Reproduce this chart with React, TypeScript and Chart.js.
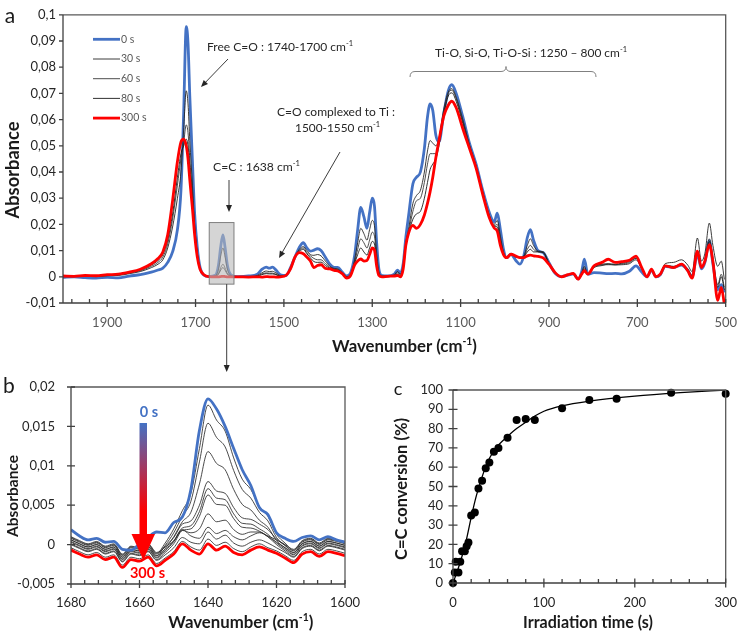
import React, { useEffect, useRef } from "react";
import { Chart, registerables } from "chart.js";
Chart.register(...registerables);

const W = 749;
const H = 637;
const FONT = "Lato, 'Open Sans', 'DejaVu Sans', sans-serif";

// ---------------- Panel a : full FTIR spectra ----------------
const wavenumberA = [
  2000, 1975, 1950, 1925, 1900, 1875, 1850, 1825, 1800, 1785,
  1774, 1763, 1752, 1741, 1733, 1727, 1721, 1717, 1713, 1707,
  1702, 1696, 1690, 1681, 1670, 1655, 1648, 1643, 1638, 1633,
  1628, 1620, 1605, 1580, 1560, 1550, 1540, 1533, 1526, 1518,
  1508, 1495, 1485, 1475, 1465, 1456, 1448, 1440, 1432, 1424,
  1416, 1406, 1396, 1386, 1378, 1368, 1358, 1349, 1340, 1333,
  1326, 1319, 1312, 1306, 1300, 1295, 1290, 1285, 1278, 1265,
  1250, 1243, 1236, 1230, 1224, 1218, 1208, 1200, 1191, 1182,
  1175, 1169, 1163, 1156, 1149, 1138, 1128, 1120, 1110, 1095,
  1080, 1065, 1050, 1035, 1024, 1017, 1010, 1003, 996, 986,
  975, 966, 957, 949, 942, 935, 925, 913, 900, 886,
  872, 857, 845, 834, 826, 820, 812, 798, 780, 766,
  750, 735, 718, 703, 690, 678, 668, 658, 648, 637,
  618, 600, 586, 576, 564, 555, 547, 537, 529, 518,
  510, 503,
];
const abs0s = [
  -0.0002, 0, -0.0003, -0.0005, -0.0002, -0.0004, 0.0003, 0.0008, 0.0018, 0.0026,
  0.0033, 0.0055, 0.0095, 0.018, 0.033, 0.062, 0.0955, 0.089, 0.069, 0.044,
  0.024, 0.011, 0.0038, 0.0006, 0.0001, 0.0006, 0.0045, 0.0115, 0.016, 0.011,
  0.0045, 0.0008, 0.0001, 0.0003, 0.001, 0.0028, 0.0037, 0.0033, 0.0037, 0.0026,
  0.0008, 0.0005, 0.0035, 0.0075, 0.0113, 0.013, 0.011, 0.0098, 0.0102, 0.0107,
  0.01, 0.0075, 0.0048, 0.0036, 0.0036, 0.0018, 0.0003, 0.0015, 0.008, 0.018,
  0.0265, 0.023, 0.0185, 0.0245, 0.03, 0.027, 0.013, 0.003, 0.0005, 0.0003,
  0.001, 0.0025, 0.0015, 0.005, 0.015, 0.023, 0.0355, 0.038, 0.04, 0.049,
  0.061, 0.066, 0.0635, 0.054, 0.0515, 0.0625, 0.071, 0.0733, 0.07, 0.061,
  0.051, 0.043, 0.033, 0.0245, 0.021, 0.0243, 0.018, 0.0105, 0.0073, 0.0086,
  0.0062, 0.0048, 0.008, 0.015, 0.018, 0.014, 0.01, 0.0092, 0.0054, 0.0013,
  0.0001, 0.0006, 0.0011, -0.0008, 0.002, 0.0067, 0.001, 0.0016, 0.0014, 0.0012,
  0.0013, 0.0011, 0.0021, 0.0042, 0.0018, 0, 0.0025, 0, 0.0008, 0.004,
  0.0035, 0.0045, 0.0025, 0, 0.0086, 0.003, 0.0055, 0.0138, 0.005, -0.005,
  -0.003, -0.006,
];
const abs30s = [
  0, 0.0001, 0.0002, 0.0001, 0.0004, 0.0005, 0.0012, 0.002, 0.0035, 0.0048,
  0.0065, 0.011, 0.019, 0.03, 0.04, 0.056, 0.071, 0.066, 0.052, 0.035,
  0.02, 0.009, 0.0033, 0.0006, 0.0001, 0.0004, 0.003, 0.008, 0.011, 0.0075,
  0.003, 0.0005, 0, 0.0001, 0.0005, 0.0015, 0.0022, 0.002, 0.0021, 0.0015,
  0.0005, 0.0005, 0.0033, 0.0075, 0.0105, 0.0115, 0.01, 0.0085, 0.0082, 0.0085,
  0.008, 0.006, 0.004, 0.0032, 0.003, 0.0016, 0.0001, 0.001, 0.0065, 0.013,
  0.0185, 0.0165, 0.014, 0.018, 0.0215, 0.0195, 0.009, 0.002, 0.0003, 0.0002,
  0.0008, 0.002, 0.001, 0.0045, 0.013, 0.018, 0.028, 0.031, 0.033, 0.04,
  0.048, 0.052, 0.051, 0.05, 0.053, 0.064, 0.0705, 0.0718, 0.0685, 0.06,
  0.0505, 0.0425, 0.0325, 0.0235, 0.02, 0.0215, 0.0155, 0.0095, 0.0073, 0.0086,
  0.0075, 0.0075, 0.008, 0.012, 0.0145, 0.012, 0.0098, 0.0095, 0.0052, 0.0015,
  0, 0.0007, 0.0012, -0.0008, 0.0015, 0.004, 0.0008, 0.0035, 0.0043, 0.0048,
  0.0045, 0.0046, 0.005, 0.0065, 0.003, 0.0002, 0.0028, 0.0002, 0.0012, 0.005,
  0.0055, 0.0065, 0.0045, 0.002, 0.0148, 0.006, 0.009, 0.0205, 0.012, 0.004,
  0.006, -0.001,
];
const abs60s = [
  0.0001, 0.0001, 0.0003, 0.0002, 0.0005, 0.0007, 0.0014, 0.0023, 0.004, 0.0055,
  0.0075, 0.0125, 0.022, 0.035, 0.045, 0.051, 0.058, 0.055, 0.045, 0.032,
  0.019, 0.009, 0.0032, 0.0007, 0.0001, 0.0002, 0.0013, 0.0035, 0.0048, 0.0033,
  0.0013, 0.0002, 0, 0, 0.0003, 0.0011, 0.0015, 0.0014, 0.0014, 0.001,
  0.0003, 0.0005, 0.0032, 0.0075, 0.01, 0.011, 0.0093, 0.008, 0.007, 0.0065,
  0.0065, 0.005, 0.0036, 0.003, 0.0028, 0.0015, 0, 0.0008, 0.0055, 0.0105,
  0.0145, 0.013, 0.011, 0.014, 0.017, 0.0155, 0.007, 0.0015, 0.0002, 0.0002,
  0.0006, 0.0015, 0.0007, 0.004, 0.0125, 0.017, 0.025, 0.029, 0.03, 0.036,
  0.043, 0.047, 0.047, 0.047, 0.052, 0.063, 0.07, 0.0712, 0.068, 0.0595,
  0.05, 0.042, 0.032, 0.023, 0.0195, 0.02, 0.0145, 0.009, 0.0073, 0.0086,
  0.0076, 0.0074, 0.0078, 0.0105, 0.012, 0.0105, 0.0096, 0.0094, 0.005, 0.0015,
  0, 0.0007, 0.0012, -0.0008, 0.0013, 0.0035, 0.0009, 0.0038, 0.0045, 0.0046,
  0.0046, 0.0049, 0.0054, 0.007, 0.0032, 0.0001, 0.0027, 0.0001, 0.001, 0.0043,
  0.004, 0.0048, 0.003, 0.0005, 0.01, 0.004, 0.0065, 0.0145, 0.007, -0.003,
  0.001, -0.004,
];
const abs80s = [
  0.0001, 0.0002, 0.0004, 0.0003, 0.0006, 0.0008, 0.0016, 0.0026, 0.0045, 0.0062,
  0.0085, 0.014, 0.024, 0.038, 0.047, 0.05, 0.0525, 0.05, 0.042, 0.03,
  0.018, 0.0088, 0.0032, 0.0007, 0.0001, 0.0001, 0.001, 0.0026, 0.0035, 0.0025,
  0.001, 0.0002, 0, 0, 0.0002, 0.0008, 0.0012, 0.0011, 0.0011, 0.0008,
  0.0002, 0.0005, 0.0031, 0.0075, 0.0097, 0.0105, 0.0088, 0.0072, 0.0058, 0.0055,
  0.0056, 0.0043, 0.0033, 0.0028, 0.0026, 0.0014, -0.0002, 0.0007, 0.005, 0.0085,
  0.011, 0.0095, 0.0083, 0.011, 0.0135, 0.0125, 0.0055, 0.001, 0.0001, 0.0002,
  0.0005, 0.001, 0.0004, 0.0035, 0.012, 0.0165, 0.022, 0.024, 0.025, 0.03,
  0.036, 0.041, 0.043, 0.045, 0.05, 0.062, 0.069, 0.0702, 0.067, 0.0585,
  0.0495, 0.042, 0.032, 0.023, 0.0193, 0.019, 0.0135, 0.0088, 0.0073, 0.0086,
  0.0077, 0.0073, 0.0076, 0.0095, 0.0105, 0.0095, 0.0095, 0.0092, 0.005, 0.0015,
  0, 0.0007, 0.0012, -0.0008, 0.0012, 0.003, 0.0009, 0.004, 0.0048, 0.005,
  0.0048, 0.0052, 0.0058, 0.0072, 0.0033, 0.0001, 0.0028, 0.0001, 0.001, 0.0043,
  0.0038, 0.0046, 0.0028, 0.0002, 0.0093, 0.0035, 0.006, 0.0135, 0.006, -0.004,
  0, -0.005,
];
const abs300s = [
  0.0003, 0.0002, 0.0005, 0.0004, 0.0008, 0.001, 0.0018, 0.0029, 0.005, 0.007,
  0.0095, 0.016, 0.029, 0.044, 0.0515, 0.0525, 0.05, 0.045, 0.037, 0.026,
  0.016, 0.0075, 0.003, 0.0008, 0.0001, 0, 0, 0.0001, 0.0002, 0.0001,
  0, 0, 0, -0.0001, 0, -0.0001, 0.0001, 0, 0, -0.0001,
  0, 0.0006, 0.003, 0.0075, 0.0092, 0.0088, 0.0075, 0.006, 0.0035, 0.0043,
  0.0046, 0.0032, 0.003, 0.0024, 0.0022, 0.0012, -0.0005, 0.0005, 0.0045, 0.006,
  0.0068, 0.006, 0.0062, 0.0085, 0.011, 0.0102, 0.004, 0.0005, 0, 0.0002,
  0.0003, 0.0005, 0, 0.003, 0.012, 0.0165, 0.0196, 0.0185, 0.02, 0.0236,
  0.028, 0.0325, 0.038, 0.0455, 0.052, 0.0614, 0.0655, 0.067, 0.0645, 0.0565,
  0.049, 0.0415, 0.0315, 0.0225, 0.0186, 0.0174, 0.012, 0.0085, 0.0073, 0.0086,
  0.0079, 0.0073, 0.0073, 0.008, 0.0083, 0.008, 0.0078, 0.0072, 0.0048, 0.0016,
  0, 0.0008, 0.0013, -0.0009, 0.001, 0.0023, 0.001, 0.0042, 0.0055, 0.0067,
  0.0055, 0.0058, 0.0063, 0.0079, 0.0035, 0, 0.0029, 0, 0.001, 0.0042,
  0.0035, 0.0048, 0.0023, -0.0005, 0.0098, 0.0035, 0.006, 0.0123, 0.006, -0.009,
  -0.004, -0.0105,
];
const legendA = ["0 s", "30 s", "60 s", "80 s", "300 s"];
const ticksAX = [1900, 1700, 1500, 1300, 1100, 900, 700, 500];
const minorAX = [1980, 1940, 1860, 1820, 1780, 1740, 1660, 1620, 1580, 1540, 1460, 1420, 1380, 1340, 1260, 1220, 1180, 1140, 1060, 1020, 980, 940, 860, 820, 780, 740, 660, 620, 580, 540];
const ticksAY = [-0.01, 0, 0.01, 0.02, 0.03, 0.04, 0.05, 0.06, 0.07, 0.08, 0.09, 0.1];

// ---------------- Panel b : zoom on C=C band ----------------
const wavenumberB = [
  1680, 1677.5, 1675, 1672.5, 1670, 1667.5, 1665, 1662.5, 1660, 1657.5, 1655,
  1652.5, 1650, 1647.5, 1645, 1642.5, 1640, 1637.5, 1635, 1632.5, 1630, 1627.5,
  1625, 1622.5, 1620, 1617.5, 1615, 1612.5, 1610, 1607.5, 1605, 1602.5, 1600,
];
const absB0s = [0.0019, 0.0011, 0.0006, 0.0008, 0.0003, 0.0004, -0.0006, -0.0007, 0.0001, 0.0009, 0.0016, 0.0015, 0.0028, 0.0035, 0.007, 0.0145, 0.0185, 0.0172, 0.015, 0.0122, 0.0095, 0.0075, 0.0047, 0.0038, 0.0015, 0.0008, 0.0004, 0.0009, 0.0011, 0.0006, 0.001, 0.0006, 0.0003];
const absB300s = [-0.0007, -0.0012, -0.0016, -0.0013, -0.0019, -0.0016, -0.0029, -0.0019, -0.0021, -0.0016, -0.0027, -0.002, -0.0012, 0.0001, -0.0007, -0.0012, 0.0001, -0.0007, -0.0002, -0.001, -0.0013, -0.0007, -0.0003, -0.0007, -0.0011, -0.0017, -0.0023, -0.0012, -0.0009, -0.0015, -0.0009, -0.0011, -0.0014];
const absBLine1 = [0.0009, 0.0004, 0, 0.0003, -0.0003, 0, -0.0013, -0.0003, -0.0005, 0, -0.0011, 0.0002, 0.002, 0.0043, 0.0065, 0.0122, 0.0177, 0.0158, 0.0144, 0.011, 0.0083, 0.007, 0.0048, 0.0036, 0.0013, 0.0002, -0.0007, 0.0004, 0.0007, 0.0001, 0.0007, 0.0005, 0.0002];
const absBLine2 = [0.0006, 0.0001, -0.0003, 0, -0.0006, -0.0003, -0.0016, -0.0006, -0.0008, -0.0003, -0.0014, -0.0001, 0.0015, 0.0036, 0.0055, 0.0105, 0.0154, 0.0136, 0.0124, 0.0094, 0.007, 0.0059, 0.0041, 0.003, 0.0009, -0.0001, -0.001, 0.0001, 0.0004, -0.0002, 0.0004, 0.0002, -0.0001];
const absBLine3 = [0.0004, -0.0001, -0.0005, -0.0002, -0.0008, -0.0005, -0.0018, -0.0008, -0.001, -0.0005, -0.0016, -0.0005, 0.001, 0.0029, 0.0041, 0.0077, 0.0118, 0.0103, 0.0095, 0.007, 0.0051, 0.0044, 0.0031, 0.0022, 0.0005, -0.0004, -0.0012, -0.0001, 0.0002, -0.0004, 0.0002, 0, -0.0003];
const absBLine4 = [0.0008, 0.0003, -0.0001, 0.0002, -0.0004, -0.0001, -0.0014, -0.0004, -0.0006, -0.0001, -0.0012, -0.0002, 0.0009, 0.0026, 0.003, 0.005, 0.008, 0.0068, 0.0065, 0.0047, 0.0034, 0.0032, 0.0026, 0.0019, 0.0007, -0.0001, -0.0008, 0.0003, 0.0006, 0, 0.0006, 0.0004, 0.0001];
const absBLine5 = [0.0003, -0.0002, -0.0006, -0.0003, -0.0009, -0.0006, -0.0019, -0.0009, -0.0011, -0.0006, -0.0017, -0.0008, 0.0004, 0.0021, 0.0024, 0.0042, 0.0071, 0.0059, 0.0057, 0.0039, 0.0027, 0.0026, 0.002, 0.0013, 0.0002, -0.0006, -0.0013, -0.0002, 0.0001, -0.0005, 0.0001, -0.0001, -0.0004];
const absBLine6 = [0.0001, -0.0004, -0.0008, -0.0005, -0.0011, -0.0008, -0.0021, -0.0011, -0.0013, -0.0008, -0.0019, -0.001, 0.0001, 0.0018, 0.002, 0.0036, 0.0063, 0.0051, 0.005, 0.0033, 0.0022, 0.0021, 0.0017, 0.001, 0, -0.0008, -0.0015, -0.0004, -0.0001, -0.0007, -0.0001, -0.0003, -0.0006];
const absBLine7 = [0.0006, 0.0001, -0.0003, 0, -0.0006, -0.0003, -0.0016, -0.0006, -0.0008, -0.0003, -0.0014, -0.0006, 0.0004, 0.0018, 0.0015, 0.002, 0.0039, 0.0029, 0.0031, 0.0019, 0.0013, 0.0016, 0.0016, 0.001, 0.0003, -0.0004, -0.001, 0.0001, 0.0004, -0.0002, 0.0004, 0.0002, -0.0001];
const absBLine8 = [0, -0.0005, -0.0009, -0.0006, -0.0012, -0.0009, -0.0022, -0.0012, -0.0014, -0.0009, -0.002, -0.0013, -0.0004, 0.0009, 0.0003, 0.0001, 0.0016, 0.0007, 0.0012, 0.0002, -0.0002, 0.0003, 0.0006, 0.0002, -0.0004, -0.001, -0.0016, -0.0005, -0.0002, -0.0008, -0.0002, -0.0004, -0.0007];
const absBLine9 = [0.001, 0.0005, 0.0001, 0.0004, -0.0002, 0.0001, -0.0012, -0.0002, -0.0004, 0.0001, -0.001, -0.0003, 0.0005, 0.0019, 0.0011, 0.0008, 0.0022, 0.0014, 0.0018, 0.001, 0.0006, 0.0011, 0.0015, 0.0011, 0.0006, 0, -0.0006, 0.0005, 0.0008, 0.0002, 0.0008, 0.0006, 0.0003];
const absBLine10 = [-0.0004, -0.0009, -0.0013, -0.001, -0.0016, -0.0013, -0.0026, -0.0016, -0.0018, -0.0013, -0.0024, -0.0017, -0.0009, 0.0004, -0.0003, -0.0007, 0.0007, -0.0001, 0.0003, -0.0005, -0.0009, -0.0003, 0.0001, -0.0004, -0.0008, -0.0014, -0.002, -0.0009, -0.0006, -0.0012, -0.0006, -0.0008, -0.0011];
const ticksBX = [1680, 1660, 1640, 1620, 1600];
const minorBX = [1676, 1672, 1668, 1664, 1656, 1652, 1648, 1644, 1636, 1632, 1628, 1624, 1616, 1612, 1608, 1604];
const ticksBY = [-0.005, 0, 0.005, 0.01, 0.015, 0.02];

// ---------------- Panel c : conversion kinetics ----------------
const timeC = [0, 2, 3, 6, 8, 10, 13, 15, 17, 20, 24, 28, 32, 36, 40, 45, 50, 60, 70, 80, 90, 120, 150, 180, 240, 300];
const conversionC = [0, 5.5, 11, 5.5, 11, 16.5, 16.5, 19, 21, 35, 36.5, 49, 53, 59.5, 62.5, 68, 70, 75.3, 84.4, 85, 84.4, 90.5, 94.8, 95.5, 98.6, 98];
const fitTimeC = [0, 5, 10, 15, 20, 25, 30, 35, 40, 45, 50, 60, 70, 80, 90, 100, 120, 150, 200, 250, 300];
const fitConversionC = [0, 6.5, 14, 23, 34, 44, 52, 59, 64.5, 68.5, 71.5, 76, 80, 83.3, 86.5, 89, 91.8, 94.2, 96.8, 98.6, 100];
const ticksCX = [0, 100, 200, 300];
const minorCX = [20, 40, 60, 80, 120, 140, 160, 180, 220, 240, 260, 280];
const ticksCY = [0, 10, 20, 30, 40, 50, 60, 70, 80, 90, 100];

// ---------------- helpers ----------------
const fmt = (v: number) => String(+Number(v).toFixed(4)).replace(".", ",");
type Part = { t: string; sup?: boolean };

function fitText(ctx: CanvasRenderingContext2D, parts: Part[], cx: number, cy: number, targetW: number, weight: string, color: string, rotate = false) {
  ctx.save();
  const measure = (size: number) => {
    let w = 0;
    for (const p of parts) {
      ctx.font = `${weight} ${p.sup ? size * 0.62 : size}px ${FONT}`;
      w += ctx.measureText(p.t).width;
    }
    return w;
  };
  const size = (20 * targetW) / measure(20);
  const w = measure(size);
  ctx.translate(cx, cy);
  if (rotate) ctx.rotate(-Math.PI / 2);
  ctx.fillStyle = color;
  ctx.textBaseline = "middle";
  ctx.textAlign = "left";
  let x = -w / 2;
  for (const p of parts) {
    ctx.font = `${weight} ${p.sup ? size * 0.62 : size}px ${FONT}`;
    ctx.fillText(p.t, x, p.sup ? -size * 0.32 : 0);
    x += ctx.measureText(p.t).width;
  }
  ctx.restore();
}

function plainText(ctx: CanvasRenderingContext2D, t: string, x: number, y: number, size: number, weight: string, color: string, align: CanvasTextAlign = "center") {
  ctx.save();
  ctx.font = `${weight} ${size}px ${FONT}`;
  ctx.fillStyle = color;
  ctx.textAlign = align;
  ctx.textBaseline = "middle";
  ctx.fillText(t, x, y);
  ctx.restore();
}

function arrow(ctx: CanvasRenderingContext2D, x1: number, y1: number, x2: number, y2: number, color = "#262626", lw = 0.9, hl = 7, hw = 3) {
  const a = Math.atan2(y2 - y1, x2 - x1);
  ctx.save();
  ctx.strokeStyle = color;
  ctx.fillStyle = color;
  ctx.lineWidth = lw;
  ctx.beginPath();
  ctx.moveTo(x1, y1);
  ctx.lineTo(x2 - hl * 0.8 * Math.cos(a), y2 - hl * 0.8 * Math.sin(a));
  ctx.stroke();
  ctx.beginPath();
  ctx.moveTo(x2, y2);
  ctx.lineTo(x2 - hl * Math.cos(a) + hw * Math.sin(a), y2 - hl * Math.sin(a) - hw * Math.cos(a));
  ctx.lineTo(x2 - hl * Math.cos(a) - hw * Math.sin(a), y2 - hl * Math.sin(a) + hw * Math.cos(a));
  ctx.closePath();
  ctx.fill();
  ctx.restore();
}

type Deco = { xMinor: number[]; xMajUp: number; xMajDown: number; xMinUp: number; yOut: number; yIn: number; axis: string; frame: string };

function drawAxes(chart: any, d: Deco) {
  const { ctx, chartArea } = chart;
  const { left, right, top, bottom } = chartArea;
  const x = chart.scales.x;
  const y = chart.scales.y;
  ctx.save();
  ctx.lineWidth = 1.3;
  ctx.strokeStyle = d.frame;
  ctx.beginPath();
  ctx.moveTo(left, top);
  ctx.lineTo(right, top);
  ctx.lineTo(right, bottom);
  ctx.stroke();
  ctx.strokeStyle = d.axis;
  ctx.beginPath();
  ctx.moveTo(left, top);
  ctx.lineTo(left, bottom);
  ctx.lineTo(right, bottom);
  for (const t of x.ticks) {
    const p = x.getPixelForValue(t.value);
    ctx.moveTo(p, bottom - d.xMajUp);
    ctx.lineTo(p, bottom + d.xMajDown);
  }
  for (const v of d.xMinor) {
    const p = x.getPixelForValue(v);
    ctx.moveTo(p, bottom - d.xMinUp);
    ctx.lineTo(p, bottom);
  }
  for (const t of y.ticks) {
    const p = y.getPixelForValue(t.value);
    ctx.moveTo(left - d.yOut, p);
    ctx.lineTo(left + d.yIn, p);
  }
  ctx.stroke();
  ctx.restore();
}

function scaleX(min: number, max: number, reverse: boolean, ticks: number[], pad: number, height: number, color: string) {
  return {
    type: "linear", min, max, reverse,
    grid: { display: false, drawTicks: false },
    border: { display: false },
    afterBuildTicks: (s: any) => { s.ticks = ticks.map((v) => ({ value: v })); },
    afterFit: (s: any) => { s.height = height; },
    ticks: { autoSkip: false, maxRotation: 0, padding: pad, color, font: { family: FONT, size: 13 }, callback: (v: any) => fmt(v) },
  };
}
function scaleY(min: number, max: number, ticks: number[], pad: number, width: number, color: string) {
  return {
    type: "linear", min, max,
    grid: { display: false, drawTicks: false },
    border: { display: false },
    afterBuildTicks: (s: any) => { s.ticks = ticks.map((v) => ({ value: v })); },
    afterFit: (s: any) => { s.width = width; },
    ticks: { autoSkip: false, padding: pad, color, font: { family: FONT, size: 13 }, callback: (v: any) => fmt(v) },
  };
}
const pts = (xs: number[], ys: number[]) => xs.map((x, i) => ({ x, y: ys[i] }));
const baseOpts = {
  responsive: false, animation: false, events: [],
  elements: { point: { radius: 0 }, line: { cubicInterpolationMode: "monotone", borderJoinStyle: "round" } },
  plugins: { legend: { display: false }, tooltip: { enabled: false } },
};

// ---------------- chart configs ----------------
function configA(): any {
  const colors = ["#4472C4", "#262626", "#3a3a3a", "#1a1a1a", "#FF0000"];
  const widths = [2.8, 0.9, 0.9, 0.9, 2.8];
  const series = [abs0s, abs30s, abs60s, abs80s, abs300s];
  const orders = [4, 3, 2, 1, 0];
  const deco = {
    id: "decoA",
    afterDatasetsDraw(chart: any) {
      const { ctx, scales: { x, y } } = chart;
      const x1 = x.getPixelForValue(1669), x2 = x.getPixelForValue(1613);
      const y1 = y.getPixelForValue(0.0207), y2 = y.getPixelForValue(-0.0028);
      ctx.save();
      ctx.fillStyle = "rgba(185,185,185,0.6)";
      ctx.fillRect(x1, y1, x2 - x1, y2 - y1);
      ctx.strokeStyle = "#7f7f7f";
      ctx.lineWidth = 1;
      ctx.strokeRect(x1, y1, x2 - x1, y2 - y1);
      ctx.restore();
    },
    afterDraw(chart: any) {
      const { ctx } = chart;
      drawAxes(chart, { xMinor: minorAX, xMajUp: 4, xMajDown: 4, xMinUp: 4, yOut: 4, yIn: 0, axis: "#404040", frame: "#595959" });
      // legend
      legendA.forEach((lab, i) => {
        const yy = 39.3 + i * 19.7;
        ctx.save();
        ctx.strokeStyle = colors[i];
        ctx.lineWidth = widths[i];
        ctx.beginPath();
        ctx.moveTo(93, yy);
        ctx.lineTo(120, yy);
        ctx.stroke();
        ctx.restore();
        plainText(ctx, lab, 121, yy, 10.5, "normal", "#595959", "left");
      });
      // titles and panel letter
      plainText(ctx, "a", 10, 16, 21, "normal", "#1a1a1a");
      fitText(ctx, [{ t: "Absorbance" }], 13, 170, 97, "bold", "#1a1a1a", true);
      fitText(ctx, [{ t: "Wavenumber (cm" }, { t: "-1", sup: true }, { t: ")" }], 404.5, 347, 145, "bold", "#1a1a1a");
      // annotations
      fitText(ctx, [{ t: "Free C=O : 1740-1700 cm" }, { t: "-1", sup: true }], 280, 47, 146, "normal", "#262626");
      arrow(ctx, 228, 59, 201, 87);
      fitText(ctx, [{ t: "C=C : 1638 cm" }, { t: "-1", sup: true }], 256.5, 167, 87, "normal", "#262626");
      arrow(ctx, 229, 180, 229, 212);
      fitText(ctx, [{ t: "C=O complexed to Ti :" }], 336, 112, 118, "normal", "#262626");
      fitText(ctx, [{ t: "1500-1550 cm" }, { t: "-1", sup: true }], 337.5, 128, 85, "normal", "#262626");
      arrow(ctx, 340, 152, 279, 258);
      fitText(ctx, [{ t: "Ti-O, Si-O, Ti-O-Si : 1250 \u2013 800 cm" }, { t: "-1", sup: true }], 531, 53, 192, "normal", "#262626");
      // curly bracket
      ctx.save();
      ctx.strokeStyle = "#808080";
      ctx.lineWidth = 1;
      ctx.beginPath();
      ctx.moveTo(410, 77);
      ctx.quadraticCurveTo(410, 71.5, 415, 71.5);
      ctx.lineTo(501, 71.5);
      ctx.quadraticCurveTo(506, 71.5, 506, 66.5);
      ctx.quadraticCurveTo(506, 71.5, 511, 71.5);
      ctx.lineTo(591, 71.5);
      ctx.quadraticCurveTo(596, 71.5, 596, 77);
      ctx.stroke();
      ctx.restore();
      // connecting arrow to panel b
      arrow(ctx, 226.7, y2px(chart), 226.7, 372);
    },
  };
  function y2px(chart: any) { return chart.scales.y.getPixelForValue(-0.0028); }
  return {
    type: "line",
    data: {
      datasets: series.map((s, i) => ({
        label: legendA[i], data: pts(wavenumberA, s), borderColor: colors[i], borderWidth: widths[i], order: orders[i],
      })),
    },
    options: {
      ...baseOpts,
      layout: { padding: { left: 0, top: 11, right: 13, bottom: 277 } },
      scales: {
        x: scaleX(500, 2000, true, ticksAX, 12, 57, "#595959"),
        y: scaleY(-0.01, 0.1, ticksAY, 7, 63, "#262626"),
      },
    },
    plugins: [deco],
  };
}

function configB(): any {
  const blacks = [absBLine1, absBLine2, absBLine3, absBLine4, absBLine5, absBLine6, absBLine7, absBLine8, absBLine9, absBLine10];
  const datasets: any[] = [
    { label: "0 s", data: pts(wavenumberB, absB0s), borderColor: "#4472C4", borderWidth: 2.8, order: 0 },
    { label: "300 s", data: pts(wavenumberB, absB300s), borderColor: "#FF0000", borderWidth: 2.8, order: 1 },
    ...blacks.map((s, i) => ({ label: "t" + (i + 1), data: pts(wavenumberB, s), borderColor: "#2b2b2b", borderWidth: 0.85, order: 2 + i })),
  ];
  const deco = {
    id: "decoB",
    afterDatasetsDraw(chart: any) {
      const { ctx } = chart;
      ctx.save();
      const g = ctx.createLinearGradient(0, 423, 0, 534);
      g.addColorStop(0, "#4472C4");
      g.addColorStop(0.8, "#FF0000");
      g.addColorStop(1, "#FF0000");
      ctx.fillStyle = g;
      ctx.fillRect(139.5, 423, 7.5, 112);
      ctx.fillStyle = "#FF0000";
      ctx.beginPath();
      ctx.moveTo(131.5, 534);
      ctx.lineTo(155, 534);
      ctx.lineTo(143.3, 560);
      ctx.closePath();
      ctx.fill();
      ctx.restore();
      plainText(ctx, "0 s", 149, 412, 14.5, "bold", "#4472C4");
      plainText(ctx, "300 s", 147.5, 573, 14.5, "bold", "#FF0000");
    },
    afterDraw(chart: any) {
      const { ctx } = chart;
      drawAxes(chart, { xMinor: minorBX, xMajUp: 4, xMajDown: 4, xMinUp: 4, yOut: 4, yIn: 4, axis: "#404040", frame: "#595959" });
      plainText(ctx, "b", 9, 386, 21, "normal", "#1a1a1a");
      fitText(ctx, [{ t: "Absorbance" }], 13.5, 496, 82, "bold", "#1a1a1a", true);
      fitText(ctx, [{ t: "Wavenumber (cm" }, { t: "-1", sup: true }, { t: ")" }], 240.8, 623, 145, "bold", "#1a1a1a");
    },
  };
  return {
    type: "line",
    data: { datasets },
    options: {
      ...baseOpts,
      layout: { padding: { left: 0, top: 387, right: 404, bottom: 0 } },
      scales: {
        x: scaleX(1600, 1680, true, ticksBX, 11, 53, "#262626"),
        y: scaleY(-0.005, 0.02, ticksBY, 16, 71, "#262626"),
      },
    },
    plugins: [deco],
  };
}

function configC(): any {
  const deco = {
    id: "decoC",
    afterDraw(chart: any) {
      const { ctx } = chart;
      drawAxes(chart, { xMinor: minorCX, xMajUp: 4.5, xMajDown: 4.5, xMinUp: 4, yOut: 4.5, yIn: 4.5, axis: "#404040", frame: "#595959" });
      plainText(ctx, "c", 398, 389, 18, "normal", "#1a1a1a");
      fitText(ctx, [{ t: "C=C conversion (%)" }], 402, 489, 142, "bold", "#1a1a1a", true);
      fitText(ctx, [{ t: "Irradiation time (s)" }], 588, 623, 130, "bold", "#1a1a1a");
    },
  };
  return {
    type: "line",
    data: {
      datasets: [
        { label: "exp", data: pts(timeC, conversionC), showLine: false, pointRadius: 4, pointBackgroundColor: "#000", pointBorderColor: "#000", pointBorderWidth: 0, clip: false, order: 0 },
        { label: "fit", data: pts(fitTimeC, fitConversionC), borderColor: "#000", borderWidth: 1.3, pointRadius: 0, order: 1 },
      ],
    },
    options: {
      ...baseOpts,
      layout: { padding: { left: 370, top: 390, right: 21, bottom: 0 } },
      scales: {
        x: scaleX(0, 300, false, ticksCX, 12, 54, "#262626"),
        y: scaleY(0, 100, ticksCY, 10, 83, "#262626"),
      },
    },
    plugins: [deco],
  };
}

export default function App() {
  const refA = useRef<HTMLCanvasElement>(null);
  const refB = useRef<HTMLCanvasElement>(null);
  const refC = useRef<HTMLCanvasElement>(null);
  useEffect(() => {
    const charts = [
      new Chart(refA.current as HTMLCanvasElement, configA()),
      new Chart(refB.current as HTMLCanvasElement, configB()),
      new Chart(refC.current as HTMLCanvasElement, configC()),
    ];
    return () => charts.forEach((c) => c.destroy());
  }, []);
  const cs: React.CSSProperties = { position: "absolute", left: 0, top: 0, width: W, height: H };
  return (
    <div style={{ position: "absolute", left: 0, top: 0, width: W, height: H, background: "#fff" }}>
      <canvas ref={refA} width={W} height={H} style={cs} />
      <canvas ref={refB} width={W} height={H} style={cs} />
      <canvas ref={refC} width={W} height={H} style={cs} />
    </div>
  );
}
